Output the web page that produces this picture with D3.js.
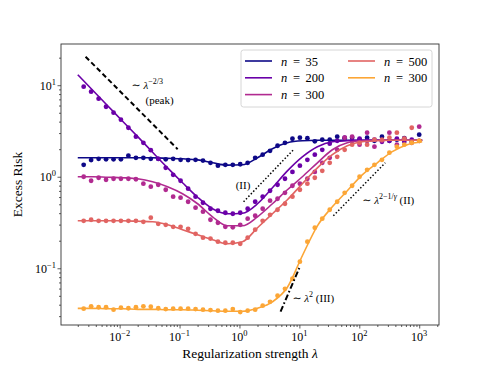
<!DOCTYPE html>
<html>
<head>
<meta charset="utf-8">
<title>Excess risk vs regularization</title>
<script src="https://d3js.org/d3.v7.min.js"></script>
<style>
body { margin: 0; background: #fff; }
svg text { font-family: "Liberation Serif", "DejaVu Serif", serif; fill: #000; }
</style>
</head>
<body>
<svg id="chart" width="488" height="366"></svg>
<script>
// lambda grid of the simulations (dots) and of the theory curves (lines)
var lambdaDots = [0.00251,0.00334,0.00446,0.00593,0.00791,0.0105,0.0140,0.0187,0.0249,0.0331,
  0.0441,0.0588,0.0782,0.104,0.139,0.185,0.246,0.328,0.437,0.581,
  0.774,1.03,1.37,1.83,2.44,3.24,4.32,5.75,7.66,10.2,
  13.6,18.1,24.1,32.1,42.8,57.0,75.9,101,135,179,
  239,318,424,564,751,1000];
var lambdaFit = [0.0020,0.00355,0.00631,0.0112,0.0200,0.0355,0.0631,0.112,0.200,0.355,
  0.631,1.12,2.00,3.55,6.31,11.2,20.0,35.5,63.1,112,200,355,631,1122];

var seriesLabels = ["35", "200", "300", "500", "300"];

var dots35 = [1.35,1.52,1.57,1.55,1.55,1.55,1.70,1.61,1.61,1.57,
  1.57,1.55,1.57,1.53,1.52,1.53,1.50,1.42,1.32,1.35,
  1.35,1.37,1.42,1.61,1.74,1.92,2.18,2.35,2.60,2.67,
  2.64,2.44,2.54,2.54,2.74,2.64,2.67,2.54,2.67,2.47,
  2.74,2.47,2.54,2.64,2.47,2.88];
var dots200 = [9.63,8.49,7.12,5.82,5.01,4.20,3.43,2.74,2.35,1.95,
  1.57,1.25,1.05,0.904,0.740,0.605,0.520,0.447,0.425,0.404,
  0.394,0.404,0.447,0.533,0.605,0.703,0.818,0.951,1.13,1.32,
  1.53,1.74,1.97,2.30,2.47,2.67,2.47,2.60,2.47,2.54,
  2.41,2.47,2.60,2.41,2.54,2.47];
var dots300 = [1.0,0.904,0.975,0.927,0.951,0.951,0.951,0.939,0.839,0.778,
  0.818,0.721,0.605,0.590,0.533,0.459,0.415,0.339,0.314,0.284,
  0.280,0.298,0.348,0.375,0.447,0.547,0.575,0.668,0.797,0.839,
  0.951,1.13,1.42,1.61,1.97,2.67,2.74,2.24,3.03,2.13,
  2.47,3.03,2.24,2.60,2.35,3.52];
var dots500 = [0.330,0.339,0.330,0.330,0.330,0.330,0.330,0.330,0.322,0.357,
  0.306,0.298,0.284,0.284,0.270,0.238,0.216,0.211,0.195,0.190,
  0.190,0.185,0.216,0.264,0.330,0.384,0.436,0.507,0.605,0.721,
  0.839,0.975,1.16,1.42,1.65,1.97,2.24,2.35,2.24,2.54,
  2.54,2.67,3.03,2.60,3.43,2.47];
var dots300b = [0.0362,0.0384,0.0375,0.0375,0.0353,0.0371,0.0366,0.0375,0.0384,0.0380,
  0.0366,0.0358,0.0362,0.0362,0.0362,0.0358,0.0353,0.0349,0.0344,0.0344,
  0.0358,0.0332,0.0344,0.0353,0.0390,0.0430,0.0501,0.0597,0.0768,0.118,
  0.195,0.277,0.348,0.436,0.533,0.668,0.797,1.0,1.19,1.35,
  1.53,1.83,2.13,2.24,2.35,2.47];

var fit35 = [1.61,1.61,1.61,1.61,1.61,1.61,1.59,1.57,1.53,1.42,1.34,1.35,
  1.61,2.02,2.35,2.47,2.50,2.50,2.50,2.50,2.50,2.50,2.50,2.50];
var fit200 = [13.0,8.82,5.97,4.04,2.74,1.85,1.25,0.860,0.597,0.447,0.394,0.399,
  0.507,0.758,1.16,1.65,2.13,2.41,2.47,2.50,2.50,2.50,2.50,2.50];
var fit300 = [1.0,1.0,0.987,0.975,0.951,0.882,0.778,0.652,0.507,0.365,0.291,0.291,
  0.365,0.507,0.721,1.0,1.42,1.97,2.35,2.47,2.50,2.50,2.50,2.50];
var fit500 = [0.330,0.330,0.330,0.330,0.326,0.322,0.299,0.264,0.232,0.205,0.185,0.195,
  0.277,0.394,0.561,0.839,1.25,1.74,2.18,2.41,2.47,2.50,2.50,2.50];
var fit300b = [0.0365,0.0365,0.0361,0.0361,0.0356,0.0356,0.0352,0.0352,0.0348,0.0343,0.0339,0.0339,
  0.0366,0.0430,0.0620,0.137,0.291,0.470,0.703,1.05,1.42,1.88,2.24,2.41];

// reference slopes: [lambda, risk] end points
var refPeak = [[0.0027, 20.5], [0.093, 2.0]];
var refII = [[1.17, 0.533], [7.94, 1.97]];
var refIIb = [[36.9, 0.375], [271, 1.42]];
var refIII = [[4.85, 0.0336], [10.0, 0.101]];

var xMajor = [1e-2, 1e-1, 1, 10, 100, 1000];
var xMajorExp = ["\u22122", "\u22121", "0", "1", "2", "3"];
var yMajor = [0.1, 1, 10];
var yMajorExp = ["\u22121", "0", "1"];

var svg = d3.select("#chart");
var margin = {top: 44, right: 49, bottom: 41, left: 61},
    W = 488, H = 366;

var x = d3.scaleLog().domain([0.00105, 2140]).range([margin.left, W - margin.right]);
var y = d3.scaleLog().domain([0.024, 28.2]).range([H - margin.bottom, margin.top]);

var colors = [0, 0.2, 0.4, 0.6, 0.8].map(function(t) { return d3.interpolatePlasma(t); });
var dotsAll = [dots35, dots200, dots300, dots500, dots300b];
var fitsAll = [fit35, fit200, fit300, fit500, fit300b];

var series = seriesLabels.map(function(lab, i) {
  return {
    label: lab,
    color: colors[i],
    dots: lambdaDots.map(function(l, j) { return [l, dotsAll[i][j]]; }),
    fit: lambdaFit.map(function(l, j) { return [l, fitsAll[i][j]]; })
  };
});

function minorTicks(lo, hi) {
  var out = [];
  for (var k = -4; k <= 4; k++) {
    for (var m = 2; m <= 9; m++) {
      var v = m * Math.pow(10, k);
      if (v > lo && v < hi) out.push(v);
    }
  }
  return out;
}

// axes
var xg = svg.append("g").attr("transform", "translate(0," + (H - margin.bottom) + ")");
xg.call(d3.axisBottom(x).tickValues(minorTicks(x.domain()[0], x.domain()[1])).tickSize(2).tickFormat(""));
xg.append("g").call(d3.axisBottom(x).tickValues(xMajor).tickSize(3.5).tickFormat(""));
xg.selectAll(".domain").remove();
xg.selectAll("line").attr("stroke", "#333").attr("stroke-width", 0.8);

var yg = svg.append("g").attr("transform", "translate(" + margin.left + ",0)");
yg.call(d3.axisLeft(y).tickValues(minorTicks(y.domain()[0], y.domain()[1])).tickSize(2).tickFormat(""));
yg.append("g").call(d3.axisLeft(y).tickValues(yMajor).tickSize(3.5).tickFormat(""));
yg.selectAll(".domain").remove();
yg.selectAll("line").attr("stroke", "#333").attr("stroke-width", 0.8);

function powLabel(t, exp, size) {
  t.attr("font-size", size);
  t.append("tspan").text("10");
  t.append("tspan").attr("dy", -size * 0.42).attr("font-size", size * 0.7).text(exp);
}

xMajor.forEach(function(v, i) {
  var t = svg.append("text").attr("x", x(v)).attr("y", H - margin.bottom + 16).attr("text-anchor", "middle");
  powLabel(t, xMajorExp[i], 12);
});
yMajor.forEach(function(v, i) {
  var t = svg.append("text").attr("x", margin.left - 5).attr("y", y(v) + 4.5).attr("text-anchor", "end");
  powLabel(t, yMajorExp[i], 12);
});

var xl = svg.append("text").attr("x", (margin.left + W - margin.right) / 2).attr("y", 358)
  .attr("text-anchor", "middle").attr("font-size", 13.5);
xl.append("tspan").text("Regularization strength ");
xl.append("tspan").attr("font-style", "italic").text("\u03bb");

svg.append("text").attr("transform", "translate(22," + ((margin.top + H - margin.bottom) / 2) + ") rotate(-90)")
  .attr("text-anchor", "middle").attr("font-size", 13.5).text("Excess Risk");

// plot area
var plot = svg.append("g");
var line = d3.line().x(function(d) { return x(d[0]); }).y(function(d) { return y(d[1]); });
var smooth = d3.line().x(function(d) { return x(d[0]); }).y(function(d) { return y(d[1]); }).curve(d3.curveMonotoneX);

series.forEach(function(s) {
  plot.append("path").datum(s.fit).attr("d", smooth)
    .attr("fill", "none").attr("stroke", s.color).attr("stroke-width", 1.6);
  plot.selectAll(null).data(s.dots).enter().append("circle")
    .attr("cx", function(d) { return x(d[0]); })
    .attr("cy", function(d) { return y(d[1]); })
    .attr("r", 2.4).attr("fill", s.color);
});

plot.append("path").datum(refPeak).attr("d", line).attr("fill", "none")
  .attr("stroke", "#000").attr("stroke-width", 2).attr("stroke-dasharray", "5,3");
[refII, refIIb].forEach(function(r) {
  plot.append("path").datum(r).attr("d", line).attr("fill", "none")
    .attr("stroke", "#000").attr("stroke-width", 1.5).attr("stroke-dasharray", "1.5,2");
});
plot.append("path").datum(refIII).attr("d", line).attr("fill", "none")
  .attr("stroke", "#000").attr("stroke-width", 2).attr("stroke-dasharray", "6,2.5,1.5,2.5");

// annotations
var fs = 11, sup = 8;
var a1 = plot.append("text").attr("x", x(0.0158)).attr("y", y(9.16)).attr("font-size", fs);
a1.append("tspan").text("\u223c ");
a1.append("tspan").attr("font-style", "italic").text("\u03bb");
a1.append("tspan").attr("dy", -5).attr("font-size", sup).text("\u22122/3");
plot.append("text").attr("x", x(0.0271)).attr("y", y(6.28)).attr("font-size", fs).text("(peak)");

plot.append("text").attr("x", x(1.52)).attr("y", y(0.739)).attr("font-size", fs)
  .attr("text-anchor", "end").text("(II)");

var a3 = plot.append("text").attr("x", x(112)).attr("y", y(0.507)).attr("font-size", fs);
a3.append("tspan").text("\u223c ");
a3.append("tspan").attr("font-style", "italic").text("\u03bb");
a3.append("tspan").attr("dy", -5).attr("font-size", sup).text("2\u22121/");
a3.append("tspan").attr("font-size", sup).attr("font-style", "italic").text("\u03b3");
a3.append("tspan").attr("dy", 5).text(" (II)");

var a4 = plot.append("text").attr("x", x(7.64)).attr("y", y(0.043)).attr("font-size", fs);
a4.append("tspan").text("\u223c ");
a4.append("tspan").attr("font-style", "italic").text("\u03bb");
a4.append("tspan").attr("dy", -5).attr("font-size", sup).text("2");
a4.append("tspan").attr("dy", 5).text(" (III)");

// legend
var leg = svg.append("g");
leg.append("rect").attr("x", 241).attr("y", 50).attr("width", 191).attr("height", 57)
  .attr("rx", 2.5).attr("fill", "#fff").attr("fill-opacity", 0.8)
  .attr("stroke", "#ccc").attr("stroke-width", 0.8);
series.forEach(function(s, i) {
  var col = i < 3 ? 0 : 1, row = i < 3 ? i : i - 3;
  var lx = col === 0 ? 245 : 348, ly = 61 + row * 16.8;
  leg.append("line").attr("x1", lx).attr("x2", lx + 27).attr("y1", ly).attr("y2", ly)
    .attr("stroke", s.color).attr("stroke-width", 1.6);
  var t = leg.append("text").attr("x", lx + 36).attr("y", ly + 4.5).attr("font-size", 12.5)
    .attr("word-spacing", 2.5);
  t.append("tspan").attr("font-style", "italic").text("n");
  t.append("tspan").text(" = " + s.label);
});

// frame
svg.append("rect").attr("x", margin.left).attr("y", margin.top)
  .attr("width", W - margin.left - margin.right).attr("height", H - margin.top - margin.bottom)
  .attr("fill", "none").attr("stroke", "#333").attr("stroke-width", 0.9);
</script>
</body>
</html>
